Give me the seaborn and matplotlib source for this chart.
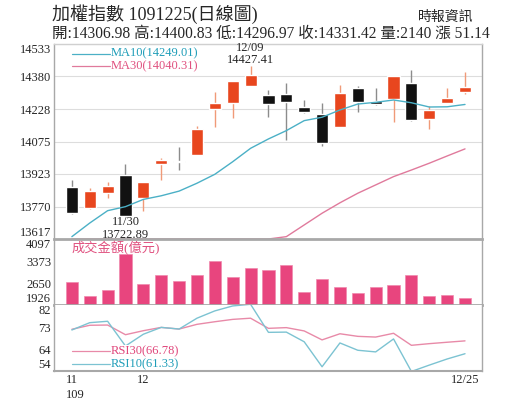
import numpy as np
import pandas as pd
import matplotlib
matplotlib.use('Agg')
import matplotlib.pyplot as plt
import seaborn as sns

# daily candles 11/25 .. 12/25 (109 = ROC year)
dates = ['11/25', '11/26', '11/27', '11/30', '12/01', '12/02', '12/03', '12/04',
         '12/07', '12/08', '12/09', '12/10', '12/11', '12/14', '12/15', '12/16',
         '12/17', '12/18', '12/21', '12/22', '12/23', '12/24', '12/25']
opens = [13860, 13764, 13832, 13918, 13811, 13971, 13985, 14012, 14229, 14254, 14337, 14293,
         14298, 14236, 14204, 14144, 14325, 14267, 14273, 14348, 14181, 14256, 14306.98]
highs = [13894, 13855, 13886, 13969, 13885, 13996, 14048, 14148, 14306, 14359, 14427.41, 14317,
         14351, 14270, 14254, 14340, 14336, 14328, 14384, 14411, 14243, 14325, 14400.83]
lows = [13734, 13760, 13811, 13722.89, 13750, 13894, 13941, 14012, 14142, 14184, 14337, 14191,
        14082, 14207, 14054, 14144, 14215, 14245, 14165, 14173, 14134, 14256, 14296.97]
closes = [13740, 13844, 13866, 13722.89, 13885, 13988, 13977, 14132, 14254, 14359, 14387, 14251,
          14262, 14212, 14069, 14304, 14259, 14250, 14384, 14176, 14223, 14280.28, 14331.42]
ma10 = [13628, 13692, 13750, 13769, 13803, 13820, 13842, 13879, 13921, 13980, 14043, 14087,
        14126, 14173, 14189, 14223, 14251, 14259, 14270, 14257, 14237, 14238, 14249.01]
# MA30 sits on the axis floor until mid December
ma30 = [13617, 13617, 13617, 13617, 13617, 13617, 13617, 13617, 13617, 13617, 13617, 13617,
        13628, 13683, 13738, 13787, 13832, 13871, 13910, 13941, 13973, 14007, 14040.31]
volume = [2673, 2222, 2410, 3604, 2617, 2903, 2706, 2913, 3364, 2837, 3133, 3077,
          3232, 2354, 2781, 2528, 2311, 2508, 2594, 2923, 2222, 2245, 2140]
rsi30 = [71.7, 73.4, 73.5, 69.4, 71.1, 72.5, 71.8, 73.8, 74.9, 75.9, 76.4, 72.1,
         72.4, 71.0, 67.2, 69.8, 68.7, 68.4, 70.0, 64.9, 65.6, 66.2, 66.78]
rsi10 = [71.4, 74.5, 75.1, 64.6, 69.6, 72.5, 71.8, 76.4, 79.5, 81.6, 82.3, 70.4,
         70.5, 66.4, 55.8, 65.9, 62.8, 62.1, 67.6, 53.8, 56.5, 59.1, 61.33]

price_ticks = ['13617', '13770', '13923', '14075', '14228', '14380', '14533']
vol_ticks = ['1926', '2650', '3373', '4097']
rsi_ticks = ['54', '64', '73', '82']

df = pd.DataFrame({'date': dates, 'open': opens, 'high': highs, 'low': lows,
                   'close': closes, 'ma10': ma10, 'ma30': ma30, 'vol': volume,
                   'rsi30': rsi30, 'rsi10': rsi10})
df['x'] = np.arange(len(df))
df['up'] = df['close'] >= df['open']

sns.set_style('white')
plt.rcParams['font.family'] = ['Liberation Serif', 'Noto Sans CJK TC']

UP = '#E8461E'
UP_WICK = '#F09A78'
DOWN = '#111111'
DOWN_WICK = '#8C8C8C'
PINK = '#E8457E'
TEAL = '#1E9DB8'
SPINE = '#A8A8A8'

W, H = 515, 413
fig = plt.figure(figsize=(W / 100, H / 100), dpi=100)


def box(top, bottom):
    return [54 / W, 1 - bottom / H, 428 / W, (bottom - top) / H]


ax1 = fig.add_axes(box(44, 239))
ax2 = fig.add_axes(box(239, 305))
ax3 = fig.add_axes(box(305, 371))

# ---- price panel
ymin, ymax = float(price_ticks[0]), float(price_ticks[-1])
ax1.vlines(df['x'], df['low'], df['high'],
           colors=np.where(df['up'], UP_WICK, DOWN_WICK), lw=1, zorder=2)
ax1.bar(df['x'], (df['close'] - df['open']).abs().clip(lower=6),
        bottom=df[['open', 'close']].min(axis=1), width=0.68,
        color=np.where(df['up'], UP, DOWN), zorder=3)
sns.lineplot(data=df, x='x', y='ma10', ax=ax1, color='#4BB0C6', lw=1, zorder=4)
sns.lineplot(data=df, x='x', y='ma30', ax=ax1, color='#E07A9C', lw=1, zorder=4,
             clip_on=False)
ax1.set_ylim(ymin, ymax)
ax1.set_yticks(np.linspace(ymin, ymax, len(price_ticks)))
ax1.set_yticklabels(price_ticks)
ax1.grid(axis='y', color='#DDDDDD', lw=0.8)
ax1.set_axisbelow(True)

hi = df['high'].idxmax()
ax1.text(hi, df['high'][hi], f"{dates[hi]}\n{df['high'][hi]:.2f}", ha='center',
         va='bottom', fontsize=9, linespacing=1.0)
lo = df['low'].idxmin()
ax1.text(lo, df['low'][lo], f"{dates[lo]}\n{df['low'][lo]:.2f}", ha='center',
         va='top', fontsize=9, linespacing=1.05)

# ---- volume panel
sns.barplot(data=df, x='x', y='vol', native_scale=True, ax=ax2, color=PINK,
            saturation=1, width=0.68, errorbar=None, edgecolor='#F08AAE', lw=0.5)
ax2.set_ylim(float(vol_ticks[0]), float(vol_ticks[-1]))
ax2.set_yticks(np.linspace(float(vol_ticks[0]), float(vol_ticks[-1]), len(vol_ticks)))
ax2.set_yticklabels(vol_ticks)

# ---- RSI panel
sns.lineplot(data=df, x='x', y='rsi30', ax=ax3, color='#E88AA8', lw=1)
sns.lineplot(data=df, x='x', y='rsi10', ax=ax3, color='#7CC3D2', lw=1)
ax3.set_ylim(54, 82)
ax3.set_yticks(np.linspace(54, 82, len(rsi_ticks)))
ax3.set_yticklabels(rsi_ticks)
ax3.set_xticks([0, 4, 22])
ax3.set_xticklabels(['11', '12', '12/25'])
ax3.set_xticks(df['x'], minor=True)
ax3.tick_params(axis='x', which='both', direction='in', length=3, color='#999999',
                labelsize=9, pad=2.5)
ax3.text(-0.33, -0.37, '109', transform=ax3.get_xaxis_transform(), ha='left',
         va='center', fontsize=9)

for ax in (ax1, ax2, ax3):
    ax.set_xlim(-1.0, 22.95)
    ax.set_xlabel('')
    ax.set_ylabel('')
    ax.tick_params(axis='y', length=0, labelsize=9, pad=2)
    labels = ax.get_yticklabels()
    labels[0].set_va('bottom')
    labels[-1].set_va('top')
    for s in ax.spines.values():
        s.set_color(SPINE)
        s.set_linewidth(1)
    if ax is not ax3:
        ax.set_xticks([])
ax1.spines['top'].set_color('#D0D0D0')
ax1.spines['bottom'].set_visible(False)
ax3.spines['top'].set_visible(False)
ax2.spines['top'].set_linewidth(2)
ax2.spines['bottom'].set_linewidth(2)
ax3.spines['bottom'].set_linewidth(1.5)


# ---- legends / captions
def fx(px):
    return px / W


def fy(py):
    return 1 - py / H


for ax, items in ((ax1, [('MA10(14249.01)', '#4BB0C6', TEAL, 53.5),
                         ('MA30(14040.31)', '#E07A9C', '#E0507F', 66)]),
                  (ax3, [('RSI30(66.78)', '#E88AA8', '#E0457A', 351),
                         ('RSI10(61.33)', '#7CC3D2', TEAL, 364)])):
    for label, lc, tc, py in items:
        ax.plot([fx(72), fx(110)], [fy(py), fy(py)], color=lc, lw=0.9,
                transform=fig.transFigure, zorder=6)
        ax.text(fx(111), fy(py), label, color=tc, fontsize=9, va='center',
                transform=fig.transFigure, zorder=6,
                bbox=dict(facecolor='white', edgecolor='none', pad=0.3))

fig.text(fx(72), fy(248), '成交金額(億元)', color='#E0507F', fontsize=9.5, va='center')
fig.text(fx(52), fy(14), '加權指數 1091225(日線圖)', fontsize=13, va='center')
fig.text(fx(52), fy(34), '開:14306.98 高:14400.83 低:14296.97 收:14331.42 量:2140 漲 51.14',
         fontsize=11.2, va='center')
fig.text(fx(473), fy(17.5), '時報資訊', fontsize=10, va='center', ha='right')

fig.savefig('out.png', dpi=100)
